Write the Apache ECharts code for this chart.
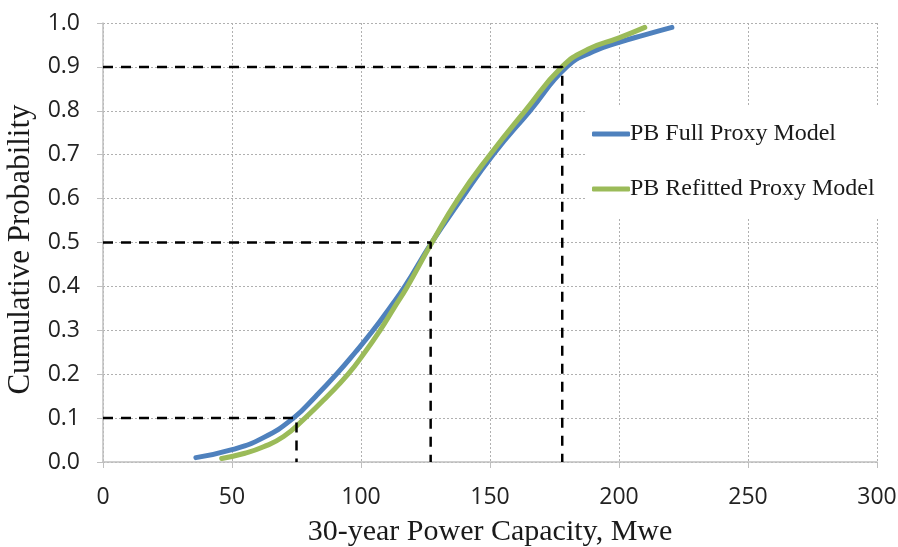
<!DOCTYPE html>
<html>
<head>
<meta charset="utf-8">
<style>
  html, body { margin: 0; padding: 0; background: #fff; }
  #chart { width: 898px; height: 547px; }
</style>
<script src="https://cdn.jsdelivr.net/npm/echarts@6/dist/echarts.min.js"></script>
</head>
<body>
<div id="chart"></div>
<script>
// Curve points: [capacity Mwe, cumulative probability]
const fullProxy = [
  [36, 0.01], [50, 0.028], [62, 0.055], [73.8, 0.10], [82.5, 0.15], [90.5, 0.20],
  [97.8, 0.25], [104.7, 0.30], [111, 0.35], [117, 0.40],
  [127.4, 0.50], [139, 0.60], [151.2, 0.70], [165.5, 0.80], [179.7, 0.90],
  [190, 0.935], [200, 0.956], [210, 0.973], [220.5, 0.99]
];
const refittedProxy = [
  [46, 0.008], [55, 0.02], [62, 0.034], [70, 0.058], [78.3, 0.10], [87, 0.15],
  [95, 0.20], [101.5, 0.25], [107.4, 0.30], [112.7, 0.35], [118, 0.40],
  [127.5, 0.50], [137.7, 0.60], [150, 0.70], [163.6, 0.80],
  [177.9, 0.90], [188, 0.94], [200, 0.966], [210, 0.99]
];
// P10 / P50 / P90 guide lines
const guideP = [0.1, 0.5, 0.9];
const guideX = [75, 127, 178];

const seriesNames = ['PB Full Proxy Model', 'PB Refitted Proxy Model'];
const colors = ['#4F81BD', '#9BBB59'];

const tickFont = "'Open Sans', 'Noto Sans', sans-serif";
const serif = "'Liberation Serif', 'DejaVu Serif', serif";

const guideSeries = guideP.map((p, i) => ({
  type: 'line',
  data: [[0, p], [guideX[i], p], [guideX[i], 0]],
  symbol: 'none',
  silent: true,
  z: 5,
  lineStyle: { color: '#000', width: 2.5, type: [10, 8] }
}));

const chart = echarts.init(document.getElementById('chart'));
chart.setOption({
  animation: false,
  grid: { left: 103, right: 21, top: 23, bottom: 85, containLabel: false, outerBoundsMode: 'none' },
  legend: {
    data: seriesNames,
    orient: 'vertical',
    left: 585,
    top: 105,
    itemGap: 31,
    itemWidth: 38,
    itemHeight: 5,
    icon: 'roundRect',
    backgroundColor: '#fff',
    padding: [17, 14, 17, 7],
    textStyle: { fontFamily: serif, fontSize: 24, lineHeight: 24, color: '#1a1a1a', padding: [0, 0, 0, -5] }
  },
  xAxis: {
    type: 'value',
    min: 0, max: 300, interval: 50,
    name: '30-year Power Capacity, Mwe',
    nameLocation: 'middle',
    nameGap: 55,
    nameTextStyle: { fontFamily: serif, fontSize: 30, color: '#1a1a1a' },
    axisLine: { lineStyle: { color: '#bfbfbf', width: 1.5 } },
    axisTick: { show: true, length: 6, lineStyle: { color: '#bfbfbf' } },
    axisLabel: { fontFamily: tickFont, fontSize: 23, color: '#222', margin: 24 },
    splitLine: { lineStyle: { color: '#b0b0b0', type: [2, 2] } }
  },
  yAxis: {
    type: 'value',
    min: 0, max: 1, interval: 0.1,
    name: 'Cumulative Probability',
    nameLocation: 'middle',
    nameGap: 66,
    nameTextStyle: { fontFamily: serif, fontSize: 31, color: '#1a1a1a', padding: [0, 14, 0, 0] },
    axisLine: { show: true, lineStyle: { color: '#bfbfbf', width: 1.5 } },
    axisTick: { show: true, length: 6, lineStyle: { color: '#bfbfbf' } },
    axisLabel: { fontFamily: tickFont, fontSize: 23, color: '#222', margin: 23,
      formatter: v => v.toFixed(1) },
    splitLine: { lineStyle: { color: '#b0b0b0', type: [2, 2] } }
  },
  series: [
    {
      name: seriesNames[0], type: 'line', data: fullProxy, smooth: 0.5,
      symbol: 'none', z: 3,
      lineStyle: { color: colors[0], width: 5, cap: 'round' },
      itemStyle: { color: colors[0] }
    },
    {
      name: seriesNames[1], type: 'line', data: refittedProxy, smooth: 0.5,
      symbol: 'none', z: 4,
      lineStyle: { color: colors[1], width: 5, cap: 'round' },
      itemStyle: { color: colors[1] }
    },
    ...guideSeries
  ]
});
</script>
</body>
</html>
